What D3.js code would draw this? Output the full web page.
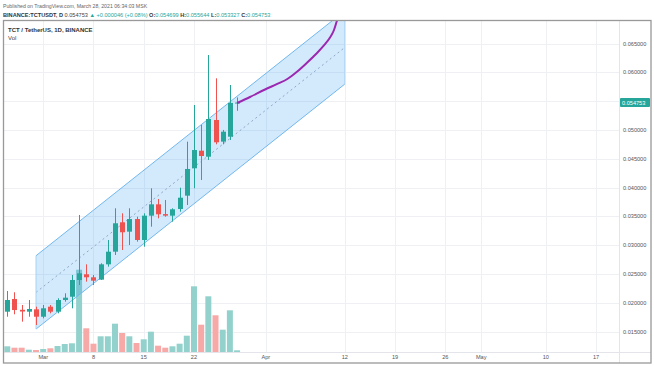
<!DOCTYPE html>
<html><head><meta charset="utf-8">
<script src="https://cdn.jsdelivr.net/npm/d3@7"></script>
<style>
html,body{margin:0;padding:0;background:#fff;}
svg{display:block;font-family:"Liberation Sans",Arial,sans-serif;}
</style></head>
<body><svg id="c" width="654" height="366"></svg>
<script>
// ---------- DATA ----------
const dates = ["2021-02-24","2021-02-25","2021-02-26","2021-02-27","2021-02-28","2021-03-01","2021-03-02","2021-03-03","2021-03-04","2021-03-05","2021-03-06","2021-03-07","2021-03-08","2021-03-09","2021-03-10","2021-03-11","2021-03-12","2021-03-13","2021-03-14","2021-03-15","2021-03-16","2021-03-17","2021-03-18","2021-03-19","2021-03-20","2021-03-21","2021-03-22","2021-03-23","2021-03-24","2021-03-25","2021-03-26","2021-03-27","2021-03-28"];
const openP  = [0.01847,0.02067,0.01880,0.01847,0.01888,0.01760,0.01934,0.01847,0.02050,0.02107,0.02397,0.02496,0.02444,0.02403,0.02669,0.02888,0.03398,0.03235,0.03455,0.03091,0.03513,0.03710,0.03540,0.03513,0.03629,0.03860,0.04335,0.04640,0.04536,0.05173,0.04797,0.04883,0.054699];
const highP  = [0.02206,0.02184,0.01963,0.02050,0.01934,0.01963,0.01963,0.02080,0.02166,0.02484,0.03525,0.02669,0.02484,0.02687,0.03091,0.03641,0.03554,0.03641,0.03495,0.03554,0.03988,0.03802,0.03785,0.03641,0.03998,0.04797,0.05433,0.05086,0.06300,0.05896,0.05000,0.05780,0.055644];
const lowP   = [0.01760,0.01802,0.01674,0.01760,0.01616,0.01732,0.01819,0.01819,0.02020,0.01906,0.02310,0.02368,0.02310,0.02397,0.02628,0.02831,0.02917,0.03004,0.03062,0.02975,0.03322,0.03467,0.03495,0.03409,0.03582,0.03698,0.03988,0.04132,0.04479,0.04751,0.04751,0.04826,0.053327];
const closeP = [0.02050,0.01876,0.01850,0.01894,0.01760,0.01906,0.01847,0.02050,0.02090,0.02397,0.02513,0.02444,0.02385,0.02669,0.02888,0.03381,0.03225,0.03455,0.03091,0.03513,0.03710,0.03537,0.03513,0.03624,0.03825,0.04323,0.04652,0.04548,0.05190,0.04786,0.04970,0.054699,0.054753];
const volume = [5.7,4.3,4.3,2.3,2.0,3.0,3.7,6.0,8.0,8.7,82.3,23.7,8.3,15.7,15.7,28.3,19.0,15.7,9.0,12.7,20.3,6.3,4.3,5.7,8.3,16.3,65.7,27.3,55.7,36.7,22.3,41.7,1.7];

// regression channel (start/end date, mid price, half width)
const channelDates = ["2021-02-28","2021-04-12"];
const channelMid = [0.02182, 0.06431];
const channelHalf = 0.00636;

// purple projection path: days after 2021-03-28, price
const pathDays  = [0, 1.8, 3.9, 5.6, 7.0, 8.3, 9.7, 11.0, 12.1, 12.9, 13.5, 13.9, 14.4];
const pathPrice = [0.05468,0.05572,0.05702,0.05798,0.05884,0.06006,0.06162,0.06318,0.06466,0.06596,0.06734,0.06890,0.07080];

const priceTicks = [0.015,0.020,0.025,0.030,0.035,0.040,0.045,0.050,0.055,0.060,0.065];
const timeTicks = ["2021-03-01","2021-03-08","2021-03-15","2021-03-22","2021-04-01","2021-04-12","2021-04-19","2021-04-26","2021-05-01","2021-05-10","2021-05-17"];
const timeTickLabels = ["Mar","8","15","22","Apr","12","19","26","May","10","17"];
const lastPrice = 0.054753;

// ---------- SCALES ----------
const parse = d3.utcParse("%Y-%m-%d");
const DAY = 86400000;
const x = d3.scaleUtc().domain([parse("2021-02-24"), parse("2021-05-17")]).range([7.3, 7.3 + 82*7.18]);
const y = d3.scaleLinear().domain([0.015, 0.065]).range([331.7, 43.5]);
const yv = d3.scaleLinear().domain([0, 100]).range([352, 252]);

const pane = {l:4, r:619, t:21, b:352};
const UP = "#26a69a", DN = "#ef5350";

const svg = d3.select("#c");
const defs = svg.append("defs");
defs.append("clipPath").attr("id","pc").append("rect")
  .attr("x",pane.l).attr("y",pane.t).attr("width",pane.r-pane.l).attr("height",pane.b-pane.t);

// header
const hdr = svg.append("g").attr("fill","#555");
hdr.append("text").attr("x",3).attr("y",7.5).attr("font-size",5.2).attr("fill","#666")
  .text("Published on TradingView.com, March 28, 2021 06:34:03 MSK");
const l2 = hdr.append("text").attr("x",3).attr("y",16.5).attr("font-size",5.6).attr("fill","#333");
l2.append("tspan").attr("font-weight","bold").text("BINANCE:TCTUSDT, D ");
l2.append("tspan").attr("fill","#444").text("0.054753 ");
l2.append("tspan").attr("fill",UP).text("▲ +0.000046 (+0.08%) ");
[["O:","0.054699"],["H:","0.055644"],["L:","0.053327"],["C:","0.054753"]].forEach(([k,v])=>{
  l2.append("tspan").attr("fill","#333").attr("font-weight","bold").text(k);
  l2.append("tspan").attr("fill",UP).text(v+" ");
});

// grid
const grid = svg.append("g").attr("stroke","#eef0f3").attr("stroke-width",1);
priceTicks.forEach(p=>{
  grid.append("line").attr("x1",pane.l).attr("x2",pane.r).attr("y1",Math.round(y(p))+0.5).attr("y2",Math.round(y(p))+0.5);
});
timeTicks.forEach(t=>{
  const xx = Math.round(x(parse(t)))+0.5;
  grid.append("line").attr("x1",xx).attr("x2",xx).attr("y1",pane.t).attr("y2",pane.b);
});

const plot = svg.append("g").attr("clip-path","url(#pc)");

// volume
plot.append("g").selectAll("rect").data(dates).join("rect")
  .attr("x",(d)=>x(parse(d))-3)
  .attr("width",6)
  .attr("y",(d,i)=>yv(volume[i]))
  .attr("height",(d,i)=>yv(0)-yv(volume[i]))
  .attr("fill",(d,i)=> closeP[i]>=openP[i] ? "#93d2cc" : "#f7a9a8");

// channel
const cx0 = x(parse(channelDates[0])), cx1 = x(parse(channelDates[1]));
const up0 = y(channelMid[0]+channelHalf), up1 = y(channelMid[1]+channelHalf);
const lo0 = y(channelMid[0]-channelHalf), lo1 = y(channelMid[1]-channelHalf);
const ch = plot.append("g");
ch.append("path").attr("d",`M${cx0},${up0}L${cx1},${up1}L${cx1},${lo1}L${cx0},${lo0}Z`)
  .attr("fill","rgba(33,150,243,0.2)").attr("stroke","none");
ch.append("line").attr("x1",cx0).attr("y1",up0).attr("x2",cx1).attr("y2",up1).attr("stroke","#72b7ee").attr("stroke-width",1);
ch.append("line").attr("x1",cx0).attr("y1",lo0).attr("x2",cx1).attr("y2",lo1).attr("stroke","#72b7ee").attr("stroke-width",1);
ch.append("line").attr("x1",cx0).attr("y1",y(channelMid[0])).attr("x2",cx1).attr("y2",y(channelMid[1]))
  .attr("stroke","#8fa9c4").attr("stroke-width",1).attr("stroke-dasharray","2,3");
ch.append("line").attr("x1",cx0).attr("y1",up0).attr("x2",cx0).attr("y2",lo0).attr("stroke","#a8d2f5").attr("stroke-width",1);
ch.append("line").attr("x1",cx1).attr("y1",up1).attr("x2",cx1).attr("y2",lo1).attr("stroke","#a8d2f5").attr("stroke-width",1);

// candles
const cg = plot.append("g");
dates.forEach((d,i)=>{
  const xx = Math.round(x(parse(d)));
  const col = closeP[i]>=openP[i] ? UP : DN;
  cg.append("line").attr("x1",xx+0.5).attr("x2",xx+0.5).attr("y1",y(highP[i])).attr("y2",y(lowP[i]))
    .attr("stroke",col).attr("stroke-width",1);
  const top = y(Math.max(openP[i],closeP[i])), bot = y(Math.min(openP[i],closeP[i]));
  cg.append("rect").attr("x",xx-2).attr("width",5).attr("y",top).attr("height",Math.max(1,bot-top)).attr("fill",col);
});

// purple path
const base = parse("2021-03-28").getTime();
plot.append("path")
  .datum(pathDays.map((dd,i)=>[new Date(base+dd*DAY), pathPrice[i]]))
  .attr("d", d3.line().x(d=>x(d[0])).y(d=>y(d[1])).curve(d3.curveMonotoneX))
  .attr("fill","none").attr("stroke","#9c27b0").attr("stroke-width",2);

// axes separators
svg.append("line").attr("x1",pane.r+0.5).attr("x2",pane.r+0.5).attr("y1",pane.t).attr("y2",363).attr("stroke","#e3e5ea");
svg.append("line").attr("x1",pane.l).attr("x2",651).attr("y1",pane.b+0.5).attr("y2",pane.b+0.5).attr("stroke","#e3e5ea");

// price axis labels
const pa = svg.append("g").attr("font-size",5.6).attr("fill","#555");
priceTicks.forEach(p=>{
  if (Math.abs(p-0.055)<1e-9) return;
  pa.append("text").attr("x",623).attr("y",y(p)+2).text(d3.format(".6f")(p));
});
// last price label
const lp = y(lastPrice);
svg.append("rect").attr("x",620).attr("y",lp-4.5).attr("width",30).attr("height",9).attr("fill",UP).attr("rx",1);
svg.append("text").attr("x",622).attr("y",lp+2).attr("font-size",5.6).attr("fill","#fff").text(d3.format(".6f")(lastPrice));

// time axis labels
const ta = svg.append("g").attr("font-size",5.6).attr("fill","#555").attr("text-anchor","middle");
timeTicks.forEach((t,i)=>{
  ta.append("text").attr("x",x(parse(t))).attr("y",359).text(timeTickLabels[i]);
});

// legend inside pane
svg.append("text").attr("x",8).attr("y",31.5).attr("font-size",6).attr("font-weight","bold").attr("fill","#333").text("TCT / TetherUS, 1D, BINANCE");
svg.append("text").attr("x",8).attr("y",40).attr("font-size",6).attr("fill","#444").text("Vol");

// frame
svg.append("rect").attr("x",3.5).attr("y",20.5).attr("width",647.5).attr("height",342.5)
  .attr("fill","none").attr("stroke","#999").attr("stroke-width",1.3);
</script></body></html>
